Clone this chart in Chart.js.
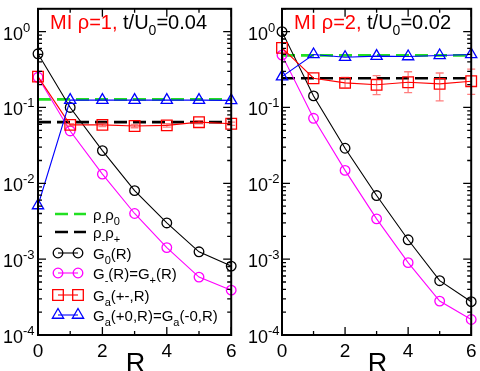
<!DOCTYPE html>
<html lang="en">
<head>
<meta charset="UTF-8">
<title>Correlations vs R</title>
<script src="https://cdn.jsdelivr.net/npm/chart.js@4"></script>
<style>
  body{ margin:0; padding:0; background:#fff; }
  .wrap{ position:relative; width:480px; height:371px; }
  .panel{ position:absolute; top:0; width:240px; height:371px; }
</style>
</head>
<body>
<div class="wrap">
  <div class="panel" style="left:0"><canvas id="left"></canvas></div>
  <div class="panel" style="left:240px"><canvas id="right"></canvas></div>
</div>
<script>
const R = [0, 1, 2, 3, 4, 5, 6];
const xTicks = [0, 2, 4, 6];
const yExps = [0, -1, -2, -3, -4];

// MI rho=1, t/U0=0.04
const rho0_1 = 0.128;
const rhoP_1 = 0.064;
const g0_1 = [0.51, 0.10, 0.027, 0.0080, 0.0030, 0.00125, 0.00081];
const gm_1 = [0.25, 0.049, 0.0132, 0.0040, 0.00142, 0.00058, 0.00039];
const gaPM_1 = [0.255, 0.059, 0.059, 0.057, 0.058, 0.064, 0.061];
const gaPMlo_1 = [0.255, 0.057, 0.056, 0.054, 0.055, 0.061, 0.058];
const gaPMhi_1 = [0.255, 0.061, 0.062, 0.060, 0.061, 0.067, 0.064];
const ga0_1 = [0.0051, 0.125, 0.125, 0.125, 0.125, 0.125, 0.124];

// MI rho=2, t/U0=0.02
const rho0_2 = 0.486;
const rhoP_2 = 0.243;
const g0_2 = [1.0, 0.142, 0.029, 0.0069, 0.0018, 0.00052, 0.000275];
const gm_2 = [0.49, 0.072, 0.0148, 0.0034, 0.00090, 0.00028, 0.00016];
const gaPM_2 = [0.61, 0.243, 0.211, 0.199, 0.215, 0.205, 0.222];
const gaPMlo_2 = [0.61, 0.243, 0.180, 0.148, 0.157, 0.122, 0.149];
const gaPMhi_2 = [0.61, 0.243, 0.250, 0.263, 0.296, 0.285, 0.320];
const ga0_2 = [0.255, 0.50, 0.46, 0.476, 0.47, 0.485, 0.50];

const FONT = '"Liberation Sans", Arial, sans-serif';
const GREEN = '#22e022';
const MAGENTA = '#ff00ff';

function pts(vals){ return vals.map((v, i) => ({x: R[i], y: v})); }
function flat(v){ return [{x: R[0], y: v}, {x: R[R.length-1], y: v}]; }

// text with sub/superscripts: parts = [text, kind] kind: 0 normal, 1 sub, 2 sup
function rich(ctx, x, y, parts, size, color){
  parts.forEach(p => {
    const kind = p[1] || 0;
    const s = kind ? Math.round(size * 0.72) : size;
    const dy = kind === 1 ? size * 0.3 : kind === 2 ? -size * 0.45 : 0;
    ctx.font = s + 'px ' + FONT;
    ctx.fillStyle = p[2] || color;
    ctx.fillText(p[0], x, y + dy);
    x += ctx.measureText(p[0]).width;
  });
  return x;
}

function marker(ctx, style, x, y, r, color){
  ctx.save();
  ctx.strokeStyle = color; ctx.lineWidth = 1.3;
  ctx.beginPath();
  if (style === 'circle') ctx.arc(x, y, r, 0, Math.PI*2);
  else if (style === 'rect'){ const s = r*Math.SQRT1_2; ctx.rect(x-s, y-s, 2*s, 2*s); }
  else if (style === 'triangle'){
    let a = 0;
    ctx.moveTo(x + Math.sin(a)*r, y - Math.cos(a)*r);
    a += 2*Math.PI/3; ctx.lineTo(x + Math.sin(a)*r, y - Math.cos(a)*r);
    a += 2*Math.PI/3; ctx.lineTo(x + Math.sin(a)*r, y - Math.cos(a)*r);
    ctx.closePath();
  }
  ctx.stroke();
  ctx.restore();
}

const decor = {
  id: 'decor',
  afterDatasetsDraw(chart){
    const {ctx, chartArea: a, scales: {x, y}} = chart;
    const o = chart.options.plugins.decor;
    ctx.save();
    // error bars
    chart.data.datasets.forEach(ds => {
      if (!ds.errLo) return;
      ctx.strokeStyle = 'rgba(255,40,40,0.6)';
      ctx.lineWidth = 1.3;
      ds.data.forEach((p, i) => {
        const px = x.getPixelForValue(p.x);
        const y1 = y.getPixelForValue(ds.errLo[i]), y2 = y.getPixelForValue(ds.errHi[i]);
        if (Math.abs(y1 - y2) < 2) return;
        ctx.beginPath();
        ctx.moveTo(px, y1); ctx.lineTo(px, y2);
        ctx.moveTo(px-4, y1); ctx.lineTo(px+4, y1);
        ctx.moveTo(px-4, y2); ctx.lineTo(px+4, y2);
        ctx.stroke();
      });
    });
    // frame
    ctx.strokeStyle = '#000'; ctx.lineWidth = 2;
    ctx.strokeRect(a.left, a.top, a.right - a.left, a.bottom - a.top);
    // ticks
    ctx.lineWidth = 1.3;
    ctx.beginPath();
    R.forEach(v => {
      const px = x.getPixelForValue(v), L = v % 2 === 0 ? 8 : 4;
      ctx.moveTo(px, a.bottom); ctx.lineTo(px, a.bottom - L);
      ctx.moveTo(px, a.top); ctx.lineTo(px, a.top + L);
    });
    for (let e = -4; e <= 0; e++){
      for (let m = 1; m <= 9; m++){
        const v = m * Math.pow(10, e);
        if (v > y.max) break;
        const py = y.getPixelForValue(v), L = m === 1 ? 8 : 4;
        ctx.moveTo(a.left, py); ctx.lineTo(a.left + L, py);
        ctx.moveTo(a.right, py); ctx.lineTo(a.right - L, py);
      }
    }
    ctx.stroke();
    // tick labels
    ctx.textBaseline = 'alphabetic';
    ctx.textAlign = 'left';
    yExps.forEach(e => {
      const py = y.getPixelForValue(Math.pow(10, e));
      rich(ctx, o.labelX, py + 8, [['10'], [String(e), 2]], 18, '#000');
    });
    ctx.font = '19px ' + FONT;
    ctx.fillStyle = '#000';
    ctx.textAlign = 'center';
    xTicks.forEach(v => ctx.fillText(String(v), x.getPixelForValue(v), 357));
    ctx.font = '27px ' + FONT;
    ctx.fillText('R', (a.left + a.right) / 2 + 1, 372);
    ctx.textAlign = 'left';
    // title
    rich(ctx, a.left + 12, 29, o.title, 20, '#000');
    // legend
    if (o.legend){
      const lx1 = 58, lx2 = 78, tx = 93;
      o.legend.forEach(it => {
        const ds = chart.data.datasets[it.ds];
        ctx.save();
        ctx.strokeStyle = ds.borderColor;
        ctx.lineWidth = ds.borderWidth;
        ctx.setLineDash(ds.borderDash || []);
        ctx.beginPath();
        if (ds.borderDash){ ctx.moveTo(55, it.y); ctx.lineTo(86, it.y); }
        else { ctx.moveTo(lx1, it.y); ctx.lineTo(lx2, it.y); }
        ctx.stroke();
        ctx.restore();
        if (!ds.borderDash){
          marker(ctx, ds.pointStyle, lx1, it.y, ds.pointRadius, ds.borderColor);
          marker(ctx, ds.pointStyle, lx2, it.y, ds.pointRadius, ds.borderColor);
        }
        rich(ctx, tx, it.y + 6, it.text, 15, '#000');
      });
    }
    ctx.restore();
  }
};

function makePanel(id, d){
  const base = {showLine: true, clip: false, pointBackgroundColor: 'rgba(0,0,0,0)', pointBorderWidth: 1.3, borderWidth: 1.1};
  return new Chart(document.getElementById(id), {
    type: 'scatter',
    data: {
      datasets: [
        Object.assign({}, base, {label: 'Ga(+0,R)', data: pts(d.ga0), borderColor: '#0000ff', pointStyle: 'triangle', pointRadius: 6.5, order: 1}),
        Object.assign({}, base, {label: 'Ga(+-,R)', data: pts(d.gaPM), errLo: d.gaPMlo, errHi: d.gaPMhi, borderColor: '#ff0000', pointStyle: 'rect', pointRadius: 7.5, order: 2}),
        Object.assign({}, base, {label: 'G-(R)', data: pts(d.gm), borderColor: MAGENTA, pointStyle: 'circle', pointRadius: 4.8, order: 3}),
        Object.assign({}, base, {label: 'G0(R)', data: pts(d.g0), borderColor: '#000000', pointStyle: 'circle', pointRadius: 4.8, order: 4}),
        {label: 'rho-rho+', data: flat(d.rhoP), showLine: true, borderColor: '#000', borderWidth: 2.6, borderDash: [13, 6], pointRadius: 0, order: 5},
        {label: 'rho-rho0', data: flat(d.rho0), showLine: true, borderColor: GREEN, borderWidth: 2.6, borderDash: [13, 6], pointRadius: 0, order: 6}
      ]
    },
    options: {
      responsive: true,
      maintainAspectRatio: false,
      animation: false,
      layout: {padding: {top: 2, right: d.padRight, left: 0, bottom: 0}},
      scales: {
        x: {type: 'linear', min: 0, max: 6, ticks: {display: false}, grid: {display: false}, border: {display: false},
            afterFit: s => { s.height = 36; }},
        y: {type: 'logarithmic', min: 1e-4, max: 2, ticks: {display: false}, grid: {display: false}, border: {display: false},
            afterFit: s => { s.width = d.axisW; }}
      },
      plugins: {
        legend: {display: false},
        tooltip: {enabled: false},
        decor: {labelX: d.labelX, title: d.title, legend: d.legend}
      }
    },
    plugins: [decor]
  });
}

makePanel('left', {
  rho0: rho0_1, rhoP: rhoP_1, g0: g0_1, gm: gm_1, gaPM: gaPM_1, gaPMlo: gaPMlo_1, gaPMhi: gaPMhi_1, ga0: ga0_1,
  axisW: 38, padRight: 5, labelX: 3,
  title: [['MI \u03c1=1,', 0, '#ff0000'], [' t/U'], ['0', 1], ['=0.04']],
  legend: [
    {ds: 5, y: 214, text: [['\u03c1'], ['-', 1], ['\u03c1'], ['0', 1]]},
    {ds: 4, y: 232, text: [['\u03c1'], ['-', 1], ['\u03c1'], ['+', 1]]},
    {ds: 3, y: 253, text: [['G'], ['0', 1], ['(R)']]},
    {ds: 2, y: 273, text: [['G'], ['-', 1], ['(R)=G'], ['+', 1], ['(R)']]},
    {ds: 1, y: 295, text: [['G'], ['a', 1], ['(+-,R)']]},
    {ds: 0, y: 315, text: [['G'], ['a', 1], ['(+0,R)=G'], ['a', 1], ['(-0,R)']]}
  ]
});

makePanel('right', {
  rho0: rho0_2, rhoP: rhoP_2, g0: g0_2, gm: gm_2, gaPM: gaPM_2, gaPMlo: gaPMlo_2, gaPMhi: gaPMhi_2, ga0: ga0_2,
  axisW: 42, padRight: 8, labelX: 8,
  title: [['MI \u03c1=2,', 0, '#ff0000'], [' t/U'], ['0', 1], ['=0.02']],
  legend: null
});
</script>
</body>
</html>
